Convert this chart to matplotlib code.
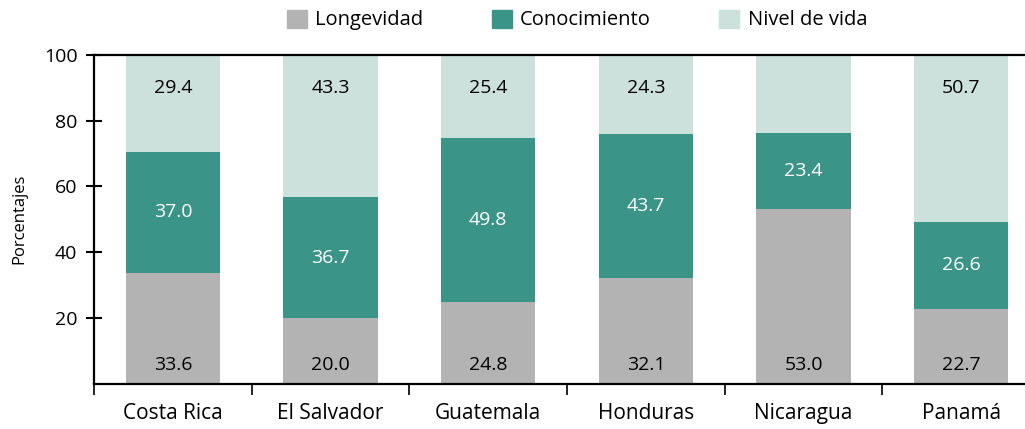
import matplotlib.pyplot as plt
from matplotlib.patches import Patch

plt.rcParams['font.family'] = ['Open Sans', 'DejaVu Sans']

paises = ["Costa Rica", "El Salvador", "Guatemala", "Honduras", "Nicaragua", "Panamá"]
longevidad = [33.6, 20.0, 24.8, 32.1, 53.0, 22.7]
conocimiento = [37.0, 36.7, 49.8, 43.7, 23.4, 26.6]
nivel_vida = [29.4, 43.3, 25.4, 24.3, 23.6, 50.7]
# Nicaragua has no label on its top segment in the source
etiquetas_nivel = ["29.4", "43.3", "25.4", "24.3", "", "50.7"]

c_long = "#b3b3b3"
c_con = "#3a9488"
c_niv = "#cce0dc"

fig = plt.figure(figsize=(10.25, 4.29), dpi=100)
ax = fig.add_axes([94 / 1025, 1 - 383.5 / 429, 946 / 1025, (383.5 - 55) / 429])

x = range(len(paises))
w = 0.6
base2 = [a + b for a, b in zip(longevidad, conocimiento)]
ax.bar(x, longevidad, w, color=c_long)
ax.bar(x, conocimiento, w, bottom=longevidad, color=c_con)
ax.bar(x, nivel_vida, w, bottom=base2, color=c_niv)

for i in x:
    ax.text(i, 5.5, f"{longevidad[i]:.1f}", ha="center", va="center", fontsize=14, color="black")
    ax.text(i, longevidad[i] + conocimiento[i] / 2, f"{conocimiento[i]:.1f}", ha="center",
            va="center", fontsize=14, color="white")
    if etiquetas_nivel[i]:
        ax.text(i, 90, etiquetas_nivel[i], ha="center", va="center", fontsize=14, color="black")

ax.set_xlim(-0.5, len(paises) - 0.5)
ax.set_ylim(0, 100)
ax.set_yticks([20, 40, 60, 80, 100])
ax.tick_params(axis="y", direction="inout", length=12, width=1.5, labelsize=14, pad=6)
ax.set_xticks([i + 0.5 for i in range(-1, len(paises))])
ax.set_xticklabels([])
ax.set_xticks(list(x), minor=True)
ax.set_xticklabels(paises, minor=True, fontsize=15)
ax.tick_params(axis="x", which="major", direction="out", length=8, width=1.2)
ax.tick_params(axis="x", which="minor", length=0, pad=14)
ax.set_ylabel("Porcentajes", fontsize=12, labelpad=12)

for s in ["left", "bottom", "top"]:
    ax.spines[s].set_linewidth(1.6)
ax.spines["right"].set_visible(False)

handles = [Patch(color=c_long, label="Longevidad"),
           Patch(color=c_con, label="Conocimiento"),
           Patch(color=c_niv, label="Nivel de vida")]
fig.legend(handles=handles, loc="center", bbox_to_anchor=(577 / 1025, 1 - 20 / 429), ncol=3,
           frameon=False, fontsize=14.5, handlelength=1.0, handleheight=1.0,
           handletextpad=0.4, columnspacing=3.4)

fig.savefig("out.png", dpi=100)
